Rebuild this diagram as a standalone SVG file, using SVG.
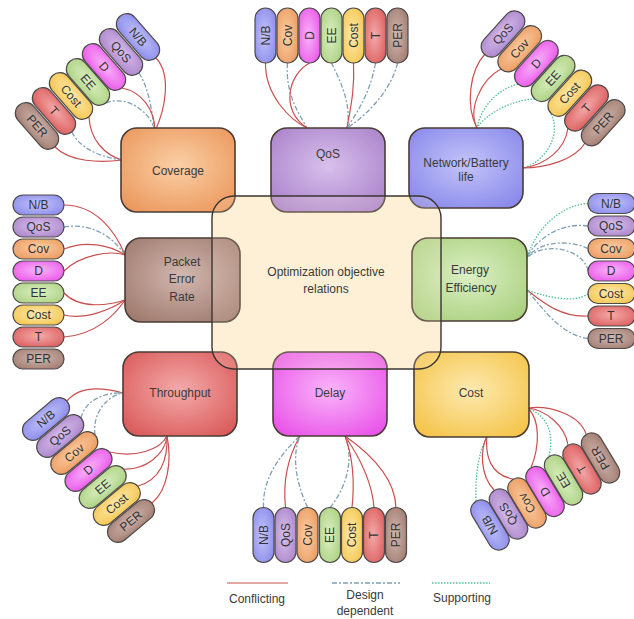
<svg xmlns="http://www.w3.org/2000/svg" width="634" height="619" viewBox="0 0 634 619">
<style>
.n{stroke:#4a3c34;stroke-width:1.6}
.p{stroke:#4e4a4a;stroke-width:1.2}
.t{font-family:"Liberation Sans",Arial,sans-serif;font-size:12px;fill:#3a3a3a;text-anchor:middle}
.pt{font-family:"Liberation Sans",Arial,sans-serif;font-size:12px;fill:#333;text-anchor:middle}
.c{fill:none;stroke:#c9504f;stroke-width:1.2}
.d{fill:none;stroke:#7fa0b6;stroke-width:1.3;stroke-dasharray:5 2 2 2}
.s{fill:none;stroke:#4fbf9a;stroke-width:1.3;stroke-dasharray:1.5 1.5}
</style>
<defs>
<radialGradient id="gNB" cx="50%" cy="45%" r="70%"><stop offset="0" stop-color="#c4c4fa"/><stop offset="1" stop-color="#8585ea"/></radialGradient>
<radialGradient id="gQoS" cx="50%" cy="45%" r="70%"><stop offset="0" stop-color="#d8c0ec"/><stop offset="1" stop-color="#a77fc8"/></radialGradient>
<radialGradient id="gCov" cx="50%" cy="45%" r="70%"><stop offset="0" stop-color="#fbcfa6"/><stop offset="1" stop-color="#ea9558"/></radialGradient>
<radialGradient id="gD" cx="50%" cy="45%" r="70%"><stop offset="0" stop-color="#fab4fa"/><stop offset="1" stop-color="#e84ee8"/></radialGradient>
<radialGradient id="gEE" cx="50%" cy="45%" r="70%"><stop offset="0" stop-color="#dcf0c4"/><stop offset="1" stop-color="#a6ce7a"/></radialGradient>
<radialGradient id="gCost" cx="50%" cy="45%" r="70%"><stop offset="0" stop-color="#fdeab0"/><stop offset="1" stop-color="#f4c244"/></radialGradient>
<radialGradient id="gT" cx="50%" cy="45%" r="70%"><stop offset="0" stop-color="#f4aaaa"/><stop offset="1" stop-color="#d95656"/></radialGradient>
<radialGradient id="gPER" cx="50%" cy="45%" r="70%"><stop offset="0" stop-color="#d2b8b0"/><stop offset="1" stop-color="#9c766a"/></radialGradient>
</defs>
<rect width="634" height="619" fill="#ffffff"/>

<g id="center-fill"><rect x="212" y="196" width="229" height="173" rx="22" fill="#fdf1d6"/></g>

<g id="connectors">
<!-- Coverage -->
<path class="c" d="M156,58 C172,75 165,110 155,131"/>
<path class="d" d="M139,73 C150,90 152,115 155,131"/>
<path class="c" d="M122,88 C142,92 155,110 155,131"/>
<path class="d" d="M106,103 C125,95 150,110 155,131"/>
<path class="c" d="M89,117 C90,140 105,155 122,160"/>
<path class="d" d="M72,132 C80,150 105,158 122,160"/>
<path class="c" d="M55,147 C70,162 100,163 122,160"/>
<!-- QoS -->
<path class="c" d="M265.5,63 C265,95 290,120 307,128"/>
<path class="d" d="M287.5,63 C285,95 300,115 307,128"/>
<path class="c" d="M309.5,63 C288,75 280,110 307,128"/>
<path class="d" d="M331.5,63 C340,80 352,105 347,128"/>
<path class="c" d="M353.5,63 C355,90 350,110 347,128"/>
<path class="d" d="M375.5,63 C370,95 355,115 347,128"/>
<path class="d" d="M397.5,63 C390,95 360,120 347,128"/>
<!-- Network/Battery -->
<path class="c" d="M485,54 C470,70 465,105 477,128"/>
<path class="c" d="M501,69 C480,80 468,110 477,128"/>
<path class="s" d="M518,84 C495,90 480,110 477,128"/>
<path class="s" d="M535,99 C510,100 485,115 477,128"/>
<path class="s" d="M551,114 C562,135 545,162 523,168"/>
<path class="c" d="M568,128 C565,150 545,165 523,168"/>
<path class="c" d="M585,143 C575,160 545,168 523,168"/>
<!-- Packet Error Rate -->
<path class="c" d="M64,205 C95,205 115,230 125,255"/>
<path class="d" d="M64,227 C95,222 115,240 125,255"/>
<path class="c" d="M64,249 C85,240 110,245 125,255"/>
<path class="c" d="M64,271 C80,255 110,250 125,255"/>
<path class="c" d="M64,293 C80,310 110,305 125,300"/>
<path class="c" d="M64,315 C85,320 110,310 125,300"/>
<path class="c" d="M64,337 C95,335 115,315 125,300"/>
<!-- Energy Efficiency -->
<path class="s" d="M588,203.5 C560,205 535,230 527,258"/>
<path class="d" d="M588,226 C560,222 535,240 527,258"/>
<path class="d" d="M588,248.5 C570,240 540,240 527,258"/>
<path class="d" d="M588,271 C585,250 545,240 527,258"/>
<path class="s" d="M588,293.5 C575,305 540,295 527,290"/>
<path class="c" d="M588,316 C560,318 540,300 527,290"/>
<path class="d" d="M588,338.5 C560,335 540,305 527,290"/>
<!-- Throughput -->
<path class="c" d="M67,401 C80,385 105,388 123,393"/>
<path class="d" d="M81,418 C85,400 105,392 123,393"/>
<path class="d" d="M95,435 C92,410 110,395 123,393"/>
<path class="c" d="M109.5,452 C135,458 160,450 167,436"/>
<path class="c" d="M124,469 C145,470 165,455 167,436"/>
<path class="c" d="M138,486 C160,480 168,460 167,436"/>
<path class="c" d="M152,503 C168,490 172,460 167,436"/>
<!-- Delay -->
<path class="d" d="M263.5,507.5 C262,475 285,450 300,436"/>
<path class="c" d="M285.5,507.5 C282,475 292,450 300,436"/>
<path class="d" d="M307.5,507.5 C295,480 292,455 300,436"/>
<path class="d" d="M330,507.5 C345,490 355,460 345,436"/>
<path class="c" d="M352,507.5 C355,480 352,455 345,436"/>
<path class="c" d="M374,507.5 C372,480 358,455 345,436"/>
<path class="c" d="M396,507.5 C395,475 365,450 345,436"/>
<!-- Cost -->
<path class="s" d="M476,501 C475,470 480,450 487,436"/>
<path class="c" d="M494,490 C480,475 480,450 487,436"/>
<path class="c" d="M513,479 C490,475 485,455 487,436"/>
<path class="c" d="M531,468 C540,445 540,420 528,408"/>
<path class="s" d="M549,456 C555,430 545,415 528,408"/>
<path class="c" d="M568,445 C565,425 545,410 528,408"/>
<path class="c" d="M586,434 C580,415 550,405 528,408"/>
</g>

<g id="node-coverage"><rect class="n" x="121" y="128" width="114" height="84" rx="16" fill="url(#gCov)"/><text class="t" x="178" y="175">Coverage</text></g>
<g id="node-qos"><rect class="n" x="271" y="128" width="114" height="84" rx="16" fill="url(#gQoS)"/><text class="t" x="328" y="158">QoS</text></g>
<g id="node-network"><rect class="n" x="409" y="128" width="114" height="80" rx="16" fill="url(#gNB)"/><text class="t" x="466" y="167">Network/Battery</text><text class="t" x="466" y="181">life</text></g>
<g id="node-per"><rect class="n" x="125" y="238" width="115" height="84" rx="16" fill="url(#gPER)"/><text class="t" x="182" y="266">Packet</text><text class="t" x="182" y="283">Error</text><text class="t" x="182" y="301">Rate</text></g>
<g id="node-ee"><rect class="n" x="412" y="238" width="115" height="83" rx="16" fill="url(#gEE)"/><text class="t" x="470" y="274">Energy</text><text class="t" x="471" y="292">Efficiency</text></g>
<g id="node-throughput"><rect class="n" x="123" y="352" width="114" height="84" rx="16" fill="url(#gT)"/><text class="t" x="180" y="397">Throughput</text></g>
<g id="node-delay"><rect class="n" x="273" y="352" width="114" height="84" rx="16" fill="url(#gD)"/><text class="t" x="330" y="397">Delay</text></g>
<g id="node-cost"><rect class="n" x="414" y="352" width="115" height="85" rx="16" fill="url(#gCost)"/><text class="t" x="471" y="397">Cost</text></g>

<g id="node-center"><rect x="212" y="196" width="229" height="173" rx="22" fill="#fdf1d6" fill-opacity="0.18" stroke="#3a3430" stroke-width="1.4"/><text class="t" x="326" y="276">Optimization objective</text><text class="t" x="326" y="293">relations</text></g>

<g id="pills-coverage">
<g transform="translate(138,37) rotate(49)"><rect class="p" x="-27.5" y="-10.5" width="55" height="21" rx="10.5" fill="url(#gNB)"/><text class="pt" y="4">N/B</text></g>
<g transform="translate(121,52) rotate(49)"><rect class="p" x="-27.5" y="-10.5" width="55" height="21" rx="10.5" fill="url(#gQoS)"/><text class="pt" y="4">QoS</text></g>
<g transform="translate(104,67) rotate(49)"><rect class="p" x="-27.5" y="-10.5" width="55" height="21" rx="10.5" fill="url(#gD)"/><text class="pt" y="4">D</text></g>
<g transform="translate(88,82) rotate(49)"><rect class="p" x="-27.5" y="-10.5" width="55" height="21" rx="10.5" fill="url(#gEE)"/><text class="pt" y="4">EE</text></g>
<g transform="translate(71,96) rotate(49)"><rect class="p" x="-27.5" y="-10.5" width="55" height="21" rx="10.5" fill="url(#gCost)"/><text class="pt" y="4">Cost</text></g>
<g transform="translate(54,111) rotate(49)"><rect class="p" x="-27.5" y="-10.5" width="55" height="21" rx="10.5" fill="url(#gT)"/><text class="pt" y="4">T</text></g>
<g transform="translate(37,126) rotate(49)"><rect class="p" x="-27.5" y="-10.5" width="55" height="21" rx="10.5" fill="url(#gPER)"/><text class="pt" y="4">PER</text></g>
</g>

<g id="pills-qos">
<g transform="translate(265.5,35.5) rotate(-90)"><rect class="p" x="-27.5" y="-10.5" width="55" height="21" rx="10.5" fill="url(#gNB)"/><text class="pt" y="4">N/B</text></g>
<g transform="translate(287.5,35.5) rotate(-90)"><rect class="p" x="-27.5" y="-10.5" width="55" height="21" rx="10.5" fill="url(#gCov)"/><text class="pt" y="4">Cov</text></g>
<g transform="translate(309.5,35.5) rotate(-90)"><rect class="p" x="-27.5" y="-10.5" width="55" height="21" rx="10.5" fill="url(#gD)"/><text class="pt" y="4">D</text></g>
<g transform="translate(331.5,35.5) rotate(-90)"><rect class="p" x="-27.5" y="-10.5" width="55" height="21" rx="10.5" fill="url(#gEE)"/><text class="pt" y="4">EE</text></g>
<g transform="translate(353.5,35.5) rotate(-90)"><rect class="p" x="-27.5" y="-10.5" width="55" height="21" rx="10.5" fill="url(#gCost)"/><text class="pt" y="4">Cost</text></g>
<g transform="translate(375.5,35.5) rotate(-90)"><rect class="p" x="-27.5" y="-10.5" width="55" height="21" rx="10.5" fill="url(#gT)"/><text class="pt" y="4">T</text></g>
<g transform="translate(397.5,35.5) rotate(-90)"><rect class="p" x="-27.5" y="-10.5" width="55" height="21" rx="10.5" fill="url(#gPER)"/><text class="pt" y="4">PER</text></g>
</g>

<g id="pills-network">
<g transform="translate(503,34) rotate(-48)"><rect class="p" x="-27.5" y="-10.5" width="55" height="21" rx="10.5" fill="url(#gQoS)"/><text class="pt" y="4">QoS</text></g>
<g transform="translate(519.7,48.8) rotate(-48)"><rect class="p" x="-27.5" y="-10.5" width="55" height="21" rx="10.5" fill="url(#gCov)"/><text class="pt" y="4">Cov</text></g>
<g transform="translate(536.4,63.6) rotate(-48)"><rect class="p" x="-27.5" y="-10.5" width="55" height="21" rx="10.5" fill="url(#gD)"/><text class="pt" y="4">D</text></g>
<g transform="translate(553.1,78.4) rotate(-48)"><rect class="p" x="-27.5" y="-10.5" width="55" height="21" rx="10.5" fill="url(#gEE)"/><text class="pt" y="4">EE</text></g>
<g transform="translate(569.8,93.2) rotate(-48)"><rect class="p" x="-27.5" y="-10.5" width="55" height="21" rx="10.5" fill="url(#gCost)"/><text class="pt" y="4">Cost</text></g>
<g transform="translate(586.5,108) rotate(-48)"><rect class="p" x="-27.5" y="-10.5" width="55" height="21" rx="10.5" fill="url(#gT)"/><text class="pt" y="4">T</text></g>
<g transform="translate(603.2,122.8) rotate(-48)"><rect class="p" x="-27.5" y="-10.5" width="55" height="21" rx="10.5" fill="url(#gPER)"/><text class="pt" y="4">PER</text></g>
</g>

<g id="pills-per">
<rect class="p" x="13" y="195" width="51" height="20" rx="10" fill="url(#gNB)"/><text class="pt" x="38.5" y="209">N/B</text>
<rect class="p" x="13" y="217" width="51" height="20" rx="10" fill="url(#gQoS)"/><text class="pt" x="38.5" y="231">QoS</text>
<rect class="p" x="13" y="239" width="51" height="20" rx="10" fill="url(#gCov)"/><text class="pt" x="38.5" y="253">Cov</text>
<rect class="p" x="13" y="261" width="51" height="20" rx="10" fill="url(#gD)"/><text class="pt" x="38.5" y="275">D</text>
<rect class="p" x="13" y="283" width="51" height="20" rx="10" fill="url(#gEE)"/><text class="pt" x="38.5" y="297">EE</text>
<rect class="p" x="13" y="305" width="51" height="20" rx="10" fill="url(#gCost)"/><text class="pt" x="38.5" y="319">Cost</text>
<rect class="p" x="13" y="327" width="51" height="20" rx="10" fill="url(#gT)"/><text class="pt" x="38.5" y="341">T</text>
<rect class="p" x="13" y="349" width="51" height="20" rx="10" fill="url(#gPER)"/><text class="pt" x="38.5" y="363">PER</text>
</g>

<g id="pills-ee">
<rect class="p" x="588" y="193.5" width="47" height="20" rx="10" fill="url(#gNB)"/><text class="pt" x="611" y="207.5">N/B</text>
<rect class="p" x="588" y="216" width="47" height="20" rx="10" fill="url(#gQoS)"/><text class="pt" x="611" y="230">QoS</text>
<rect class="p" x="588" y="238.5" width="47" height="20" rx="10" fill="url(#gCov)"/><text class="pt" x="611" y="252.5">Cov</text>
<rect class="p" x="588" y="261" width="47" height="20" rx="10" fill="url(#gD)"/><text class="pt" x="611" y="275">D</text>
<rect class="p" x="588" y="283.5" width="47" height="20" rx="10" fill="url(#gCost)"/><text class="pt" x="611" y="297.5">Cost</text>
<rect class="p" x="588" y="306" width="47" height="20" rx="10" fill="url(#gT)"/><text class="pt" x="611" y="320">T</text>
<rect class="p" x="588" y="328.5" width="47" height="20" rx="10" fill="url(#gPER)"/><text class="pt" x="611" y="342.5">PER</text>
</g>

<g id="pills-throughput">
<g transform="translate(46,419) rotate(-40)"><rect class="p" x="-27.5" y="-10.5" width="55" height="21" rx="10.5" fill="url(#gNB)"/><text class="pt" y="4">N/B</text></g>
<g transform="translate(60.2,436) rotate(-40)"><rect class="p" x="-27.5" y="-10.5" width="55" height="21" rx="10.5" fill="url(#gQoS)"/><text class="pt" y="4">QoS</text></g>
<g transform="translate(74.3,453) rotate(-40)"><rect class="p" x="-27.5" y="-10.5" width="55" height="21" rx="10.5" fill="url(#gCov)"/><text class="pt" y="4">Cov</text></g>
<g transform="translate(88.5,470) rotate(-40)"><rect class="p" x="-27.5" y="-10.5" width="55" height="21" rx="10.5" fill="url(#gD)"/><text class="pt" y="4">D</text></g>
<g transform="translate(102.7,487) rotate(-40)"><rect class="p" x="-27.5" y="-10.5" width="55" height="21" rx="10.5" fill="url(#gEE)"/><text class="pt" y="4">EE</text></g>
<g transform="translate(116.8,504) rotate(-40)"><rect class="p" x="-27.5" y="-10.5" width="55" height="21" rx="10.5" fill="url(#gCost)"/><text class="pt" y="4">Cost</text></g>
<g transform="translate(131,521) rotate(-40)"><rect class="p" x="-27.5" y="-10.5" width="55" height="21" rx="10.5" fill="url(#gPER)"/><text class="pt" y="4">PER</text></g>
</g>

<g id="pills-delay">
<g transform="translate(263.5,535) rotate(-90)"><rect class="p" x="-27.5" y="-10.5" width="55" height="21" rx="10.5" fill="url(#gNB)"/><text class="pt" y="4">N/B</text></g>
<g transform="translate(285.5,535) rotate(-90)"><rect class="p" x="-27.5" y="-10.5" width="55" height="21" rx="10.5" fill="url(#gQoS)"/><text class="pt" y="4">QoS</text></g>
<g transform="translate(307.5,535) rotate(-90)"><rect class="p" x="-27.5" y="-10.5" width="55" height="21" rx="10.5" fill="url(#gCov)"/><text class="pt" y="4">Cov</text></g>
<g transform="translate(330,535) rotate(-90)"><rect class="p" x="-27.5" y="-10.5" width="55" height="21" rx="10.5" fill="url(#gEE)"/><text class="pt" y="4">EE</text></g>
<g transform="translate(352,535) rotate(-90)"><rect class="p" x="-27.5" y="-10.5" width="55" height="21" rx="10.5" fill="url(#gCost)"/><text class="pt" y="4">Cost</text></g>
<g transform="translate(374,535) rotate(-90)"><rect class="p" x="-27.5" y="-10.5" width="55" height="21" rx="10.5" fill="url(#gT)"/><text class="pt" y="4">T</text></g>
<g transform="translate(396,535) rotate(-90)"><rect class="p" x="-27.5" y="-10.5" width="55" height="21" rx="10.5" fill="url(#gPER)"/><text class="pt" y="4">PER</text></g>
</g>

<g id="pills-cost">
<g transform="translate(490,525) rotate(-121)"><rect class="p" x="-27.5" y="-10.5" width="55" height="21" rx="10.5" fill="url(#gNB)"/><text class="pt" y="4">N/B</text></g>
<g transform="translate(508.5,514) rotate(-121)"><rect class="p" x="-27.5" y="-10.5" width="55" height="21" rx="10.5" fill="url(#gQoS)"/><text class="pt" y="4">QoS</text></g>
<g transform="translate(527,503) rotate(-121)"><rect class="p" x="-27.5" y="-10.5" width="55" height="21" rx="10.5" fill="url(#gCov)"/><text class="pt" y="4">Cov</text></g>
<g transform="translate(545,491.5) rotate(-121)"><rect class="p" x="-27.5" y="-10.5" width="55" height="21" rx="10.5" fill="url(#gD)"/><text class="pt" y="4">D</text></g>
<g transform="translate(563.5,480) rotate(-121)"><rect class="p" x="-27.5" y="-10.5" width="55" height="21" rx="10.5" fill="url(#gEE)"/><text class="pt" y="4">EE</text></g>
<g transform="translate(582,469) rotate(-121)"><rect class="p" x="-27.5" y="-10.5" width="55" height="21" rx="10.5" fill="url(#gT)"/><text class="pt" y="4">T</text></g>
<g transform="translate(600.5,458) rotate(-121)"><rect class="p" x="-27.5" y="-10.5" width="55" height="21" rx="10.5" fill="url(#gPER)"/><text class="pt" y="4">PER</text></g>
</g>

<g id="legend">
<line class="c" x1="227" y1="583" x2="288" y2="583"/>
<text class="t" x="257" y="603">Conflicting</text>
<line class="d" x1="332" y1="583" x2="400" y2="583"/>
<text class="t" x="365" y="599">Design</text>
<text class="t" x="365" y="615">dependent</text>
<line class="s" x1="432" y1="583" x2="490" y2="583"/>
<text class="t" x="462" y="602">Supporting</text>
</g>
</svg>
